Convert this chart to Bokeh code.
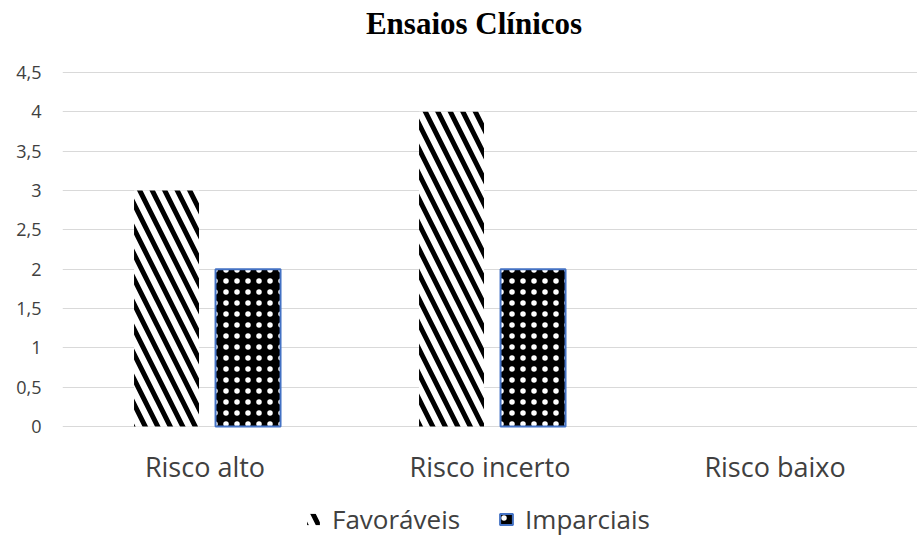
from bokeh.plotting import figure
from bokeh.models import FactorRange, ColumnDataSource, Legend, LegendItem, FixedTicker, Range1d
from bokeh.core.properties import value
from bokeh.transform import dodge
from bokeh.embed import file_html
from bokeh.resources import INLINE

title_text = "Ensaios Clínicos"
categories = ["Risco alto", "Risco incerto", "Risco baixo"]
favoraveis = [3, 4, 0]
imparciais = [2, 2, 0]
y_ticks = [0, 0.5, 1, 1.5, 2, 2.5, 3, 3.5, 4, 4.5]
y_tick_labels = ["0", "0,5", "1", "1,5", "2", "2,5", "3", "3,5", "4", "4,5"]

source = ColumnDataSource(dict(
    cat=categories,
    fav=favoraveis,
    imp=imparciais,
    base=[0] * len(categories),
    fav_alpha=[1 if v > 0 else 0 for v in favoraveis],
    imp_alpha=[1 if v > 0 else 0 for v in imparciais],
))

# frame spans the full height 0..537 px; value 0 at 426 px, 4.5 at 72 px
px_per_unit = 354 / 4.5
y_min = -111 / px_per_unit
y_max = 4.5 + 72 / px_per_unit

p = figure(
    frame_width=855, frame_height=537,
    x_range=FactorRange(factors=categories, range_padding=0),
    y_range=Range1d(y_min, y_max),
    output_backend="svg", toolbar_location=None,
    min_border_left=62, min_border_right=0, min_border_top=0, min_border_bottom=0,
)

r1 = p.vbar(x=dodge("cat", -0.135, range=p.x_range), top="fav", width=0.228, source=source,
            fill_color="white", line_color=None,
            hatch_pattern="\\", hatch_color="black", hatch_scale=25, hatch_weight=5,
            hatch_alpha="fav_alpha")
r2 = p.vbar(x=dodge("cat", 0.151, range=p.x_range), top="imp", width=0.228, source=source,
            fill_color="black", line_color="#4472C4", line_width=2, line_alpha="imp_alpha",
            hatch_pattern=".", hatch_color="white", hatch_scale=11, hatch_weight=1.6)

# category labels under the baseline
p.text(x="cat", y="base", text="cat", source=source, y_offset=40,
       text_align="center", text_baseline="middle",
       text_font=value("Open Sans"), text_font_size="27px", text_color="#404040")

# chart title above the top gridline
title_src = ColumnDataSource(dict(x=[categories[1]], y=[y_ticks[-1]], t=[title_text]))
p.text(x="x", y="y", text="t", source=title_src, x_offset=-16, y_offset=-49,
       text_align="center", text_baseline="middle",
       text_font=value("Liberation Serif"), text_font_style="bold",
       text_font_size="31px", text_color="black")

p.xaxis.visible = False

p.yaxis.ticker = FixedTicker(ticks=y_ticks)
p.yaxis.major_label_overrides = {t: l for t, l in zip(y_ticks, y_tick_labels)}
p.yaxis.axis_line_color = None
p.yaxis.major_tick_line_color = None
p.yaxis.minor_tick_line_color = None
p.yaxis.major_label_standoff = 15
p.yaxis.major_label_text_font = "Open Sans"
p.yaxis.major_label_text_font_size = "18px"
p.yaxis.major_label_text_color = "#404040"

p.xgrid.grid_line_color = None
p.ygrid.grid_line_color = "#d9d9d9"
p.ygrid.grid_line_width = 1
p.outline_line_color = None

legend = Legend(items=[LegendItem(label="Favoráveis", renderers=[r1]),
                       LegendItem(label="Imparciais", renderers=[r2])],
                orientation="horizontal", location=(243, 0),
                label_text_font="Open Sans", label_text_font_size="26px", label_text_color="#404040",
                glyph_width=16, glyph_height=14, spacing=38, padding=0, margin=0,
                border_line_color=None, background_fill_alpha=0, label_standoff=11)
p.add_layout(legend, "center")

open("out.html", "w").write(file_html(p, INLINE))
